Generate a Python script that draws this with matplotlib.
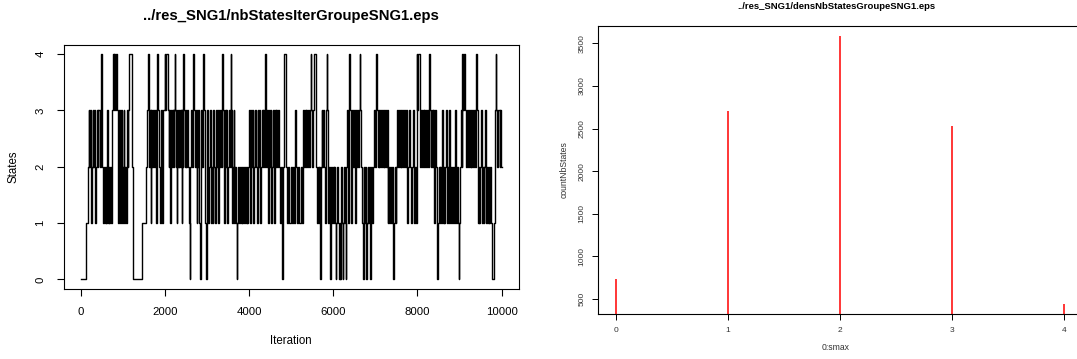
import numpy as np
import matplotlib
matplotlib.use("Agg")
import matplotlib.pyplot as plt

plt.rcParams["font.family"] = ["Liberation Sans", "DejaVu Sans"]

# ── Data ──────────────────────────────────────────────────
N_ITER = 10000

# (iteration where the chain moves, new number of states)
state_changes = [
    (1, 0), (125, 1), (160, 2), (185, 3), (205, 2), (225, 3), (245, 1), (265, 2), (280, 3), (300, 2),
    (320, 3), (340, 1), (360, 2), (385, 3), (400, 2), (420, 3), (445, 2), (470, 3), (480, 4), (495, 3),
    (510, 2), (530, 1), (550, 2), (570, 1), (590, 2), (610, 1), (625, 3), (640, 1), (660, 2), (680, 1),
    (695, 2), (715, 1), (735, 2), (750, 3), (770, 4), (790, 3), (800, 4), (815, 3), (830, 4), (850, 3),
    (875, 2), (890, 1), (905, 3), (925, 1), (945, 2), (960, 3), (980, 1), (1000, 2), (1020, 3), (1035, 1),
    (1055, 2), (1075, 1), (1090, 3), (1110, 2), (1130, 3), (1145, 4), (1210, 3), (1225, 2), (1240, 0), (1465, 1),
    (1560, 2), (1580, 3), (1600, 4), (1615, 2), (1640, 3), (1660, 1), (1680, 3), (1700, 2), (1720, 3), (1740, 2),
    (1760, 3), (1780, 1), (1800, 3), (1815, 4), (1840, 3), (1860, 2), (1880, 1), (1900, 3), (1920, 2), (1940, 1),
    (1960, 3), (1990, 4), (2000, 3), (2015, 4), (2070, 3), (2090, 2), (2105, 3), (2120, 1), (2135, 3), (2150, 2),
    (2165, 3), (2180, 2), (2195, 3), (2210, 2), (2225, 3), (2235, 4), (2250, 3), (2265, 2), (2280, 1), (2295, 3),
    (2310, 2), (2325, 3), (2340, 2), (2355, 3), (2370, 2), (2385, 3), (2400, 1), (2415, 3), (2430, 2), (2440, 4),
    (2455, 3), (2470, 2), (2490, 3), (2510, 2), (2530, 3), (2550, 2), (2570, 1), (2590, 0), (2605, 2), (2625, 3),
    (2640, 2), (2660, 3), (2675, 4), (2690, 3), (2710, 2), (2730, 3), (2750, 1), (2770, 2), (2790, 3), (2810, 1),
    (2830, 0), (2845, 2), (2865, 3), (2885, 2), (2900, 3), (2915, 4), (2930, 3), (2950, 1), (2975, 0), (2990, 1),
    (3010, 3), (3030, 1), (3050, 2), (3070, 3), (3090, 1), (3110, 2), (3130, 1), (3150, 3), (3170, 2), (3190, 1),
    (3210, 3), (3230, 2), (3250, 3), (3270, 1), (3290, 3), (3310, 2), (3330, 3), (3350, 2), (3365, 4), (3380, 3),
    (3400, 1), (3420, 3), (3440, 2), (3460, 3), (3480, 1), (3500, 2), (3520, 3), (3540, 2), (3560, 4), (3575, 3),
    (3590, 1), (3610, 2), (3630, 3), (3650, 1), (3670, 2), (3690, 1), (3705, 0), (3720, 1), (3740, 2), (3760, 1),
    (3780, 2), (3800, 1), (3820, 2), (3840, 1), (3860, 2), (3880, 1), (3900, 2), (3920, 1), (3940, 2), (3960, 1),
    (3980, 2), (4000, 3), (4020, 1), (4040, 3), (4060, 2), (4080, 3), (4100, 1), (4120, 2), (4140, 3), (4160, 2),
    (4180, 1), (4200, 3), (4220, 2), (4240, 3), (4260, 1), (4280, 2), (4300, 3), (4320, 2), (4340, 3), (4360, 2),
    (4375, 4), (4390, 3), (4410, 2), (4430, 3), (4450, 1), (4470, 3), (4490, 2), (4510, 3), (4530, 1), (4550, 2),
    (4570, 3), (4590, 1), (4610, 3), (4630, 2), (4650, 3), (4670, 2), (4690, 3), (4710, 2), (4730, 1), (4750, 2),
    (4775, 1), (4790, 0), (4805, 2), (4830, 4), (4870, 2), (4890, 1), (4930, 2), (4950, 1), (4990, 2), (5010, 1),
    (5050, 2), (5070, 1), (5100, 3), (5115, 2), (5130, 1), (5170, 2), (5190, 1), (5230, 2), (5250, 1), (5270, 2),
    (5285, 3), (5300, 2), (5320, 3), (5340, 2), (5360, 3), (5380, 2), (5400, 3), (5420, 2), (5440, 3), (5460, 4),
    (5480, 3), (5500, 2), (5520, 3), (5535, 4), (5590, 2), (5610, 1), (5630, 2), (5650, 1), (5670, 2), (5685, 0),
    (5700, 2), (5720, 3), (5740, 2), (5760, 3), (5780, 2), (5800, 1), (5820, 3), (5840, 4), (5855, 3), (5870, 1),
    (5890, 2), (5910, 1), (5930, 0), (5945, 2), (5965, 1), (5985, 2), (6005, 1), (6025, 2), (6045, 1), (6055, 0),
    (6070, 1), (6090, 2), (6110, 1), (6130, 0), (6150, 1), (6165, 0), (6185, 2), (6205, 1), (6220, 0), (6235, 1),
    (6255, 2), (6275, 1), (6290, 0), (6305, 2), (6325, 3), (6345, 1), (6365, 3), (6375, 4), (6390, 3), (6410, 2),
    (6430, 1), (6450, 3), (6470, 2), (6490, 3), (6510, 1), (6530, 3), (6550, 2), (6570, 3), (6590, 2), (6610, 3),
    (6630, 4), (6645, 3), (6660, 2), (6680, 1), (6700, 0), (6720, 2), (6740, 1), (6760, 2), (6780, 0), (6795, 1),
    (6815, 2), (6835, 1), (6855, 2), (6870, 0), (6885, 1), (6905, 2), (6925, 1), (6945, 2), (6965, 3), (6985, 2),
    (7005, 3), (7020, 4), (7035, 3), (7055, 2), (7075, 3), (7095, 2), (7115, 3), (7135, 2), (7155, 3), (7175, 2),
    (7195, 3), (7215, 2), (7235, 3), (7255, 2), (7275, 3), (7290, 1), (7310, 2), (7330, 1), (7350, 2), (7370, 1),
    (7390, 2), (7410, 1), (7425, 0), (7440, 1), (7460, 2), (7480, 1), (7500, 2), (7520, 3), (7540, 2), (7560, 3),
    (7580, 2), (7600, 3), (7620, 2), (7640, 3), (7660, 2), (7680, 3), (7700, 2), (7720, 3), (7740, 2), (7760, 1),
    (7780, 2), (7800, 3), (7820, 2), (7840, 1), (7870, 2), (7890, 3), (7910, 1), (7940, 2), (7960, 1), (7985, 4),
    (8000, 3), (8015, 4), (8065, 2), (8085, 3), (8105, 2), (8125, 3), (8145, 2), (8165, 3), (8185, 2), (8205, 3),
    (8225, 2), (8245, 3), (8265, 2), (8285, 4), (8300, 3), (8320, 2), (8340, 3), (8360, 2), (8380, 3), (8400, 1),
    (8420, 3), (8440, 2), (8455, 1), (8470, 0), (8485, 1), (8505, 2), (8525, 1), (8545, 2), (8565, 1), (8585, 3),
    (8600, 1), (8620, 2), (8640, 1), (8660, 2), (8680, 3), (8700, 1), (8720, 2), (8740, 1), (8760, 3), (8780, 1),
    (8800, 2), (8820, 1), (8840, 2), (8860, 1), (8880, 2), (8900, 3), (8920, 1), (8940, 2), (8960, 1), (8975, 0),
    (8990, 1), (9010, 2), (9030, 3), (9050, 2), (9065, 4), (9080, 3), (9095, 4), (9140, 3), (9160, 2), (9180, 3),
    (9200, 2), (9220, 3), (9240, 2), (9260, 3), (9280, 2), (9300, 3), (9320, 2), (9340, 3), (9360, 2), (9380, 3),
    (9400, 4), (9415, 3), (9430, 1), (9450, 2), (9470, 1), (9490, 2), (9510, 3), (9530, 1), (9550, 2), (9570, 1),
    (9590, 2), (9610, 3), (9630, 1), (9650, 2), (9670, 1), (9690, 2), (9710, 1), (9730, 2), (9750, 1), (9765, 0),
    (9810, 1), (9830, 2), (9850, 3), (9860, 4), (9875, 3), (9895, 2), (9920, 3), (9950, 2), (9970, 3), (9990, 2),
]

nb_states = [0, 1, 2, 3, 4]
count_nb_states = [730, 2710, 3585, 2530, 445]

# ── Figure ────────────────────────────────────────────────
W, H = 1077, 359
fig = plt.figure(figsize=(W / 100, H / 100), dpi=100)


def px_axes(left, top, right, bottom):
    return fig.add_axes([left / W, 1 - bottom / H, (right - left) / W, (bottom - top) / H])


def r_lim(lo, hi):
    # R's default 4% axis extension
    pad = (hi - lo) * 0.04
    return lo - pad, hi + pad


# left panel: trace of number of states
ax1 = px_axes(64, 45, 518.5, 288.5)
it = [c[0] for c in state_changes] + [N_ITER]
st = [c[1] for c in state_changes] + [state_changes[-1][1]]
ax1.step(it, st, where="post", color="black", lw=1.0)
ax1.set_xlim(r_lim(1, N_ITER))
ax1.set_ylim(r_lim(0, 4))
ax1.set_xticks([0, 2000, 4000, 6000, 8000, 10000])
ax1.set_yticks([0, 1, 2, 3, 4])
ax1.tick_params(direction="out", length=5, width=0.8, labelsize=8.2, pad=8.5)
for lab in ax1.get_yticklabels():
    lab.set_rotation(90)
    lab.set_va("center")
for sp in ax1.spines.values():
    sp.set_linewidth(0.8)
fig.text(291 / W, 1 - 16 / H, "../res_SNG1/nbStatesIterGroupeSNG1.eps",
         ha="center", va="center", fontsize=10.7, fontweight="bold")
fig.text(291 / W, 1 - 340.5 / H, "Iteration", ha="center", va="center", fontsize=8.3)
fig.text(14 / W, 1 - 167 / H, "States", ha="center", va="center", fontsize=8.3, rotation=90)

# right panel: counts per number of states
ax2 = px_axes(598.3, 25.5, 1082, 314.3)
ax2.vlines(nb_states, 0, count_nb_states, color="red", lw=1.1)
ax2.set_xlim(r_lim(min(nb_states), max(nb_states)))
ax2.set_ylim(r_lim(min(count_nb_states), max(count_nb_states)))
ax2.set_xticks(nb_states)
ax2.set_yticks([500, 1000, 1500, 2000, 2500, 3000, 3500])
ax2.tick_params(direction="out", length=4, width=0.7, labelsize=6, pad=5, labelcolor="#333333")
for lab in ax2.get_yticklabels():
    lab.set_rotation(90)
    lab.set_va("center")
for sp in ax2.spines.values():
    sp.set_linewidth(0.8)
fig.text(836 / W, 1 - 6.5 / H, "../res_SNG1/densNbStatesGroupeSNG1.eps",
         ha="center", va="center", fontsize=6.8, fontweight="bold")
fig.text(836 / W, 1 - 348 / H, "0:smax", ha="center", va="center", fontsize=6.2, color="#333333")
fig.text(564 / W, 1 - 170 / H, "countNbStates", ha="center", va="center", fontsize=6.2,
         rotation=90, color="#333333")

fig.savefig("out.png", dpi=100)
